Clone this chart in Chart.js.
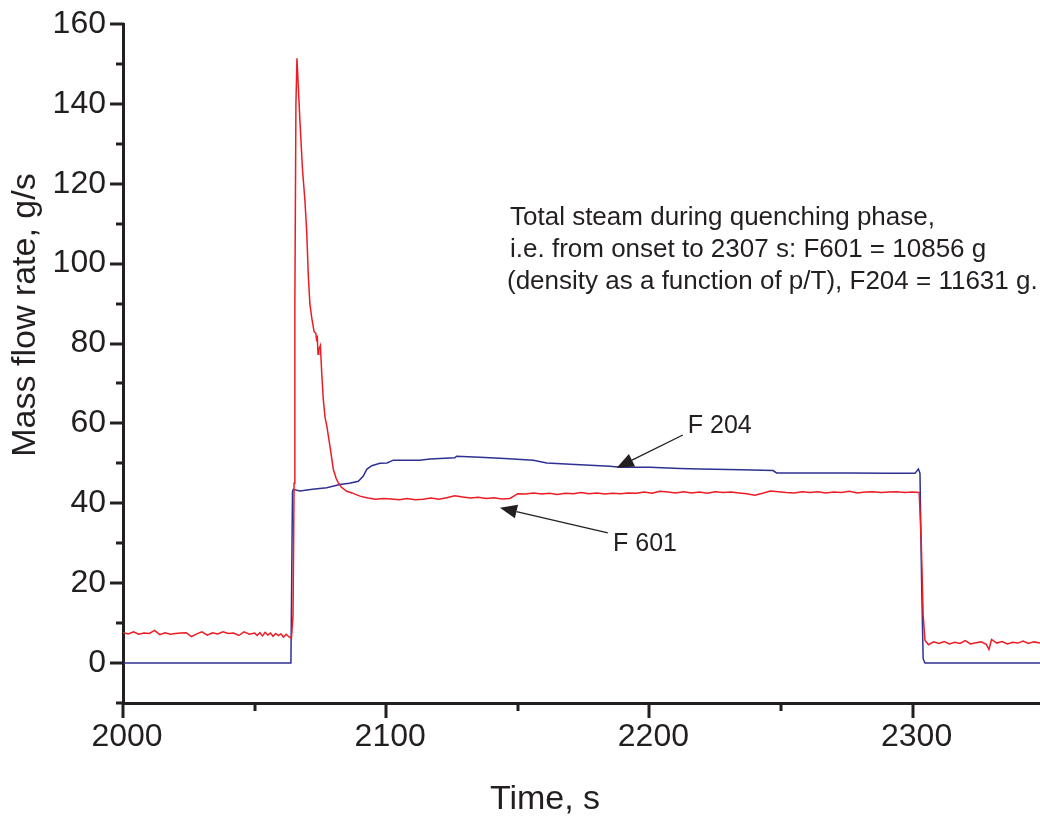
<!DOCTYPE html>
<html>
<head>
<meta charset="utf-8">
<title>Mass flow rate</title>
<script src="https://cdn.jsdelivr.net/npm/chart.js@4.4.1/dist/chart.umd.min.js"></script>
<style>
    html, body { margin: 0; padding: 0; background: #fff; overflow: hidden; }
    #wrap { width: 1040px; height: 818px; }
</style>
</head>
<body>
<div id="wrap"><canvas id="flowChart" width="1040" height="818"></canvas></div>
<script>
// F 601 (red) - time, s / mass flow rate, g/s
const f601Time = [
    2000, 2002, 2004, 2006, 2008, 2010, 2012, 2014, 2016, 2018, 2020, 2022, 2024, 2026, 2028,
    2030, 2032, 2034, 2036, 2038, 2040, 2042, 2044, 2046, 2048,
    2050, 2051, 2052, 2053, 2054, 2055, 2056, 2057, 2058, 2059, 2060, 2061, 2062, 2063, 2064,
    2064.6, 2065.0, 2065.3, 2065.7, 2066.1, 2067.2, 2068.2, 2069.1, 2069.8, 2070.4, 2071.0,
    2071.7, 2072.6, 2073.3, 2073.6, 2073.8, 2074.1, 2074.4, 2075.0, 2075.5, 2076.1, 2076.8,
    2077.4, 2078.7, 2079.9, 2081.0, 2081.8, 2083, 2085, 2087, 2090, 2093, 2096, 2099,
    2102, 2105, 2108, 2111, 2114, 2117, 2120, 2123, 2126, 2129, 2132, 2135, 2138, 2141, 2144,
    2147, 2150, 2153, 2156, 2159, 2162, 2165, 2168, 2171, 2174, 2177, 2180, 2183, 2186, 2189,
    2192, 2195, 2198, 2201, 2204, 2207, 2210, 2213, 2216, 2219, 2222, 2225, 2228, 2231, 2234,
    2237, 2240, 2243, 2246, 2249, 2252, 2255, 2258, 2261, 2264, 2267, 2270, 2273, 2276, 2279,
    2282, 2285, 2288, 2291, 2294, 2297, 2300, 2302.5, 2303.3, 2304.0, 2304.7,
    2306, 2308, 2310, 2312, 2314, 2316, 2318, 2320, 2322, 2324, 2326, 2328, 2329, 2330,
    2332, 2334, 2336, 2338, 2340, 2342, 2344, 2346, 2348.4
];
const f601Flow = [
    7.6, 7.3, 7.8, 7.2, 7.5, 7.4, 8.2, 7.1, 7.6, 7.2, 7.4, 7.5, 7.6, 6.6, 7.3,
    7.8, 7.0, 7.6, 7.3, 7.8, 7.4, 7.5, 6.9, 7.8, 7.2,
    7.5, 6.9, 7.6, 6.8, 7.7, 7.0, 7.5, 6.7, 7.4, 6.9, 7.3, 6.5, 7.2, 6.6, 6.2,
    12, 45, 90, 140, 151.4, 136, 123.5, 116, 108, 97, 90,
    86.5, 83, 82.5, 80.5, 82, 77.3, 78.5, 79.5, 72.6, 66, 61.3,
    59.5, 54, 48.5, 46.2, 45.1, 44, 43, 42.6, 41.8, 41.3, 41.0, 41.2,
    41.1, 40.9, 41.2, 40.9, 41.0, 41.3, 41.0, 41.4, 41.9, 41.6, 41.3, 41.5, 41.2, 41.4, 41.1,
    41.2, 42.4, 42.3, 42.6, 42.3, 42.5, 42.2, 42.5, 42.4, 42.7, 42.4, 42.6, 42.3, 42.5, 42.4,
    42.6, 42.5, 42.8, 42.5, 43.0, 42.8, 42.6, 42.9, 42.6, 42.8, 42.5, 42.9, 42.7, 42.8, 42.6,
    42.4, 42.0, 42.5, 43.1, 42.9, 42.7, 42.6, 42.9, 42.7, 42.9, 42.6, 42.8, 42.7, 43.0, 42.6,
    42.8, 42.9, 42.7, 42.8, 42.9, 42.7, 42.8, 42.7, 30, 12, 5.7,
    4.6, 5.3, 4.9, 5.4, 4.8, 5.2, 4.9, 5.6, 4.8, 5.1, 5.3, 4.7, 3.4, 5.9,
    5.0, 5.4, 4.8, 5.2, 5.0, 5.5, 4.9, 5.3, 5.0
];

// F 204 (blue)
const f204Time = [
    2000, 2063.8, 2064.4, 2064.7, 2067.2, 2072, 2077.4, 2082.4, 2086, 2089.4, 2091.3, 2092.6,
    2094.5, 2097.6, 2100.3, 2102.7, 2112.8, 2116.6, 2126.1, 2126.7, 2135.6, 2145, 2155.9,
    2161, 2170, 2185, 2188.8, 2200.2, 2211.6, 2219.2, 2235, 2247, 2248.3, 2260, 2276.2,
    2290, 2300.9, 2302.2, 2302.8, 2303.4, 2304.0, 2304.7, 2348.4
];
const f204Flow = [
    0, 0, 43, 43.5, 43.1, 43.5, 43.9, 44.7, 45.0, 45.5, 46.8, 48.5,
    49.4, 50.0, 50.1, 50.8, 50.8, 51.1, 51.4, 51.8, 51.5, 51.2, 50.8,
    50.1, 49.8, 49.3, 49.0, 49.0, 48.7, 48.6, 48.4, 48.2, 47.6, 47.6, 47.6,
    47.5, 47.5, 48.6, 47.5, 20.9, 1.1, 0, 0
];

// Axis ranges and tick positions (labels only on the long ticks)
const xRange = [2000, 2348.4];
const yRange = [-10, 160];
const xTicks = [2000, 2050, 2100, 2150, 2200, 2250, 2300];
const xTickLabels = ['2000', '', '2100', '', '2200', '', '2300'];
const yTicks = [-10, 0, 10, 20, 30, 40, 50, 60, 70, 80, 90, 100, 110, 120, 130, 140, 150, 160];
const yTickLabels = ['', '0', '', '20', '', '40', '', '60', '', '80', '', '100', '', '120', '', '140', '', '160'];

// Annotation text and arrow labels
const noteLines = [
    'Total steam during quenching phase,',
    'i.e. from onset to 2307 s: F601 = 10856 g',
    '(density as a function of p/T), F204 = 11631 g.'
];
const seriesLabels = ['F 601', 'F 204'];

const INK = '#231f20';
const RED = '#ed1c24';
const BLUE = '#2e3192';
const FONT = "'Liberation Sans', Arial, sans-serif";

function toPoints(xs, ys) {
    return xs.map((x, i) => ({ x: x, y: ys[i] }));
}

function drawArrow(ctx, x0, y0, x1, y1) {
    const ang = Math.atan2(y1 - y0, x1 - x0);
    const head = 17, half = 7;
    const bx = x1 - head * Math.cos(ang);
    const by = y1 - head * Math.sin(ang);
    ctx.beginPath();
    ctx.moveTo(x0, y0);
    ctx.lineTo(bx, by);
    ctx.stroke();
    ctx.beginPath();
    ctx.moveTo(x1, y1);
    ctx.lineTo(bx + half * Math.sin(ang), by - half * Math.cos(ang));
    ctx.lineTo(bx - half * Math.sin(ang), by + half * Math.cos(ang));
    ctx.closePath();
    ctx.fill();
}

/**
 * Tick marks, axis titles, note text and arrows
 */
const overlay = {
    id: 'overlay',
    afterDraw(chart) {
        const { ctx, scales: { x, y } } = chart;
        ctx.save();

        // tick marks (outward, long for labelled ones)
        ctx.strokeStyle = INK;
        ctx.lineWidth = 3;
        ctx.lineCap = 'butt';
        x.ticks.forEach((t, i) => {
            const px = Math.round(x.getPixelForValue(t.value));
            const len = xTickLabels[i] ? 15 : 8;
            ctx.beginPath();
            ctx.moveTo(px, x.top - 1);
            ctx.lineTo(px, x.top + len);
            ctx.stroke();
        });
        y.ticks.forEach((t, i) => {
            const py = Math.round(y.getPixelForValue(t.value));
            const len = yTickLabels[i] ? 13 : 7;
            ctx.beginPath();
            ctx.moveTo(y.right - len, py);
            ctx.lineTo(y.right + 1, py);
            ctx.stroke();
        });

        // axis titles
        ctx.fillStyle = INK;
        ctx.font = '34px ' + FONT;
        ctx.textAlign = 'center';
        ctx.textBaseline = 'alphabetic';
        ctx.fillText('Time, s', 545, 809);
        ctx.save();
        ctx.translate(35, 315);
        ctx.rotate(-Math.PI / 2);
        ctx.fillText('Mass flow rate, g/s', 0, 0);
        ctx.restore();

        // note block
        ctx.font = '26px ' + FONT;
        ctx.textAlign = 'left';
        ctx.textBaseline = 'middle';
        ctx.fillText(noteLines[0], 510, 218);
        ctx.fillText(noteLines[1], 510, 250);
        ctx.fillText(noteLines[2], 507, 282);

        // series labels with arrows
        ctx.font = '25px ' + FONT;
        ctx.fillText(seriesLabels[1], x.getPixelForValue(2214.6), y.getPixelForValue(59.4));
        ctx.fillText(seriesLabels[0], x.getPixelForValue(2186.2), y.getPixelForValue(29.8));

        ctx.lineWidth = 1.3;
        drawArrow(ctx,
            x.getPixelForValue(2212.7), y.getPixelForValue(57.1),
            x.getPixelForValue(2187.6), y.getPixelForValue(48.9));
        drawArrow(ctx,
            x.getPixelForValue(2184.2), y.getPixelForValue(32.6),
            x.getPixelForValue(2143.2), y.getPixelForValue(38.9));

        ctx.restore();
    }
};

const flowChart = new Chart(document.getElementById('flowChart'), {
    type: 'line',
    data: {
        datasets: [
            {
                label: seriesLabels[0],
                data: toPoints(f601Time, f601Flow),
                borderColor: RED,
                borderWidth: 1.5,
                pointRadius: 0,
                tension: 0
            },
            {
                label: seriesLabels[1],
                data: toPoints(f204Time, f204Flow),
                borderColor: BLUE,
                borderWidth: 1.5,
                pointRadius: 0,
                tension: 0
            }
        ]
    },
    options: {
        responsive: false,
        animation: false,
        devicePixelRatio: 1,
        layout: { padding: { top: 24, right: 0, left: 0, bottom: 0 } },
        plugins: {
            legend: { display: false },
            tooltip: { enabled: false }
        },
        scales: {
            x: {
                type: 'linear',
                min: xRange[0],
                max: xRange[1],
                bounds: 'data',
                grid: { display: false, drawTicks: false },
                border: { display: true, color: INK, width: 3 },
                ticks: {
                    autoSkip: false,
                    maxRotation: 0,
                    padding: 15,
                    labelOffset: 4,
                    color: INK,
                    font: { family: FONT, size: 32 },
                    callback: (v, i) => xTickLabels[i]
                },
                afterBuildTicks: s => { s.ticks = xTicks.map(v => ({ value: v })); },
                afterFit: s => {
                    s.height = 115;
                    s.paddingLeft = 0;
                    s.paddingRight = 0;
                }
            },
            y: {
                type: 'linear',
                min: yRange[0],
                max: yRange[1],
                bounds: 'data',
                grid: { display: false, drawTicks: false },
                border: { display: true, color: INK, width: 3 },
                ticks: {
                    autoSkip: false,
                    padding: 17,
                    color: INK,
                    font: { family: FONT, size: 32 },
                    callback: (v, i) => yTickLabels[i]
                },
                afterBuildTicks: s => { s.ticks = yTicks.map(v => ({ value: v })); },
                afterFit: s => {
                    s.width = 123;
                    s.paddingTop = 0;
                    s.paddingBottom = 0;
                }
            }
        }
    },
    plugins: [overlay]
});
</script>
</body>
</html>
